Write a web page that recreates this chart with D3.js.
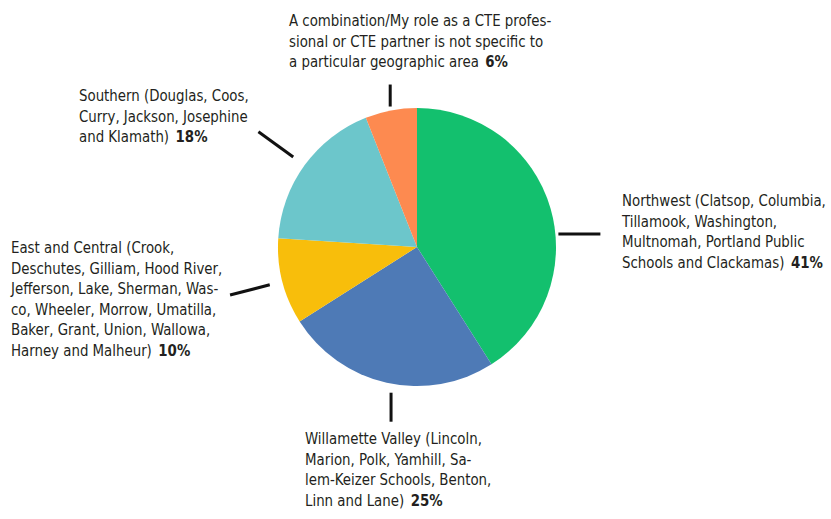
<!DOCTYPE html>
<html>
<head>
<meta charset="utf-8">
<script src="https://cdn.jsdelivr.net/npm/d3@7"></script>
<style>
  body { margin: 0; background: #fff; }
  svg text { font-family: "DejaVu Sans Condensed", "Liberation Sans Narrow", sans-serif; font-size: 16px; fill: #231f20; }
</style>
</head>
<body>
<svg id="canvas" width="831" height="519"></svg>
<script>
// regions, clockwise from 12 o'clock
const regions = ["Northwest", "Willamette Valley", "East and Central", "Southern", "Combination"];
const shares = [41, 25, 10, 18, 6];
const colors = ["#13c06e", "#4e7ab6", "#f8be0b", "#6cc6cb", "#fd8a50"];
const labelLines = [
  ["Northwest (Clatsop, Columbia,", "Tillamook, Washington,", "Multnomah, Portland Public", "Schools and Clackamas)"],
  ["Willamette Valley (Lincoln,", "Marion, Polk, Yamhill, Sa-", "lem-Keizer Schools, Benton,", "Linn and Lane)"],
  ["East and Central (Crook,", "Deschutes, Gilliam, Hood River,", "Jefferson, Lake, Sherman, Was-", "co, Wheeler, Morrow, Umatilla,", "Baker, Grant, Union, Wallowa,", "Harney and Malheur)"],
  ["Southern (Douglas, Coos,", "Curry, Jackson, Josephine", "and Klamath)"],
  ["A combination/My role as a CTE profes-", "sional or CTE partner is not specific to", "a particular geographic area"]
];

// label placement: text box origin, leader angle offset (deg), leader start radius gap, direction (deg, screen), length
const layout = [
  { x: 622, y: 206, off: 10.9, gap: 3, dir: 0, len: 42 },
  { x: 305, y: 444, off: -2.5, gap: 9, dir: 90, len: 29 },
  { x: 11, y: 253, off: 0, gap: 13, dir: null, len: 41 },
  { x: 79, y: 101, off: 0, gap: 14, dir: null, len: 43 },
  { x: 289, y: 26, off: 0, gap: 4, dir: -90, len: 22 }
];

const cx = 417, cy = 247, radius = 139, lineH = 20.6;
// width of "Northwest (Clatsop, Columbia," in the reference, used to condense the type
const refLineWidth = 204;

const canvas = d3.select("#canvas");

const pie = d3.pie().sort(null).value((d) => d.value);
const arcs = pie(regions.map((r, i) => ({ name: r, value: shares[i], color: colors[i], lines: labelLines[i], pos: layout[i] })));

const arc = d3.arc().innerRadius(0).outerRadius(radius);

const g = canvas.append("g").attr("transform", "translate(" + cx + "," + cy + ")");

g.selectAll("path")
  .data(arcs)
  .enter()
  .append("path")
  .attr("d", arc)
  .attr("fill", (d) => d.data.color);

// leader lines
const leader = (d) => {
  const p = d.data.pos;
  const a = (d.startAngle + d.endAngle) / 2 + (p.off * Math.PI) / 180;
  const r0 = radius + p.gap;
  const x0 = cx + r0 * Math.sin(a);
  const y0 = cy - r0 * Math.cos(a);
  let dx, dy;
  if (p.dir === null) {
    dx = Math.sin(a);
    dy = -Math.cos(a);
  } else {
    dx = Math.cos((p.dir * Math.PI) / 180);
    dy = Math.sin((p.dir * Math.PI) / 180);
  }
  return [x0, y0, x0 + dx * p.len, y0 + dy * p.len];
};

canvas.selectAll("line.leader")
  .data(arcs)
  .enter()
  .append("line")
  .attr("class", "leader")
  .attr("x1", (d) => leader(d)[0])
  .attr("y1", (d) => leader(d)[1])
  .attr("x2", (d) => leader(d)[2])
  .attr("y2", (d) => leader(d)[3])
  .attr("stroke", "#111")
  .attr("stroke-width", 3);

// labels
const labels = canvas.selectAll("text.label")
  .data(arcs)
  .enter()
  .append("text")
  .attr("class", "label")
  .attr("transform", (d) => "translate(" + d.data.pos.x + "," + d.data.pos.y + ")");

let firstLine = null;
labels.each(function (d, k) {
  const t = d3.select(this);
  d.data.lines.forEach((line, i) => {
    const ts = t.append("tspan")
      .attr("x", 0)
      .attr("dy", i === 0 ? 0 : lineH)
      .text(line);
    if (k === 0 && i === 0) firstLine = ts.node();
  });
  t.append("tspan")
    .attr("dx", 7)
    .attr("font-weight", "bold")
    .text(d.data.value + "%");
});

const squeeze = refLineWidth / firstLine.getComputedTextLength();
labels.attr("transform", (d) => "translate(" + d.data.pos.x + "," + d.data.pos.y + ") scale(" + squeeze + ",1)");
</script>
</body>
</html>
